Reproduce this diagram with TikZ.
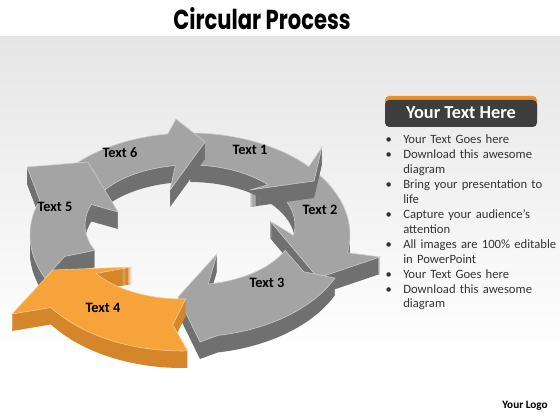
\documentclass[tikz,border=0pt]{standalone}
\usepackage{fontspec}
\setmainfont{Carlito}
\newfontfamily\titlefont{Poppins}
\usepackage{graphicx}
\usepackage{enumitem}
\usetikzlibrary{math}

\definecolor{BgGray}{HTML}{E6E6E6}
\definecolor{ArrowGray}{HTML}{A4A4A4}
\definecolor{ArrowGrayDark}{HTML}{707070}
\definecolor{ArrowOrange}{HTML}{F6A33B}
\definecolor{ArrowOrangeDark}{HTML}{D5862A}
\definecolor{HeaderGray}{HTML}{3E3E3E}
\definecolor{HeaderOrange}{HTML}{E8902C}
\definecolor{ListGray}{HTML}{333333}

\begin{document}
\begin{tikzpicture}[x=0.025cm, y=-0.025cm,
    declare function={
        ringrx(\s) = 105 + 55*\s;
        ringry(\s) = 60 + 42*\s;
        ringx(\t,\s) = 190 + ringrx(\s)*cos(\t);
        ringy(\t,\s) = 225 + 10*\s + ringry(\s)*sin(\t);
    },
    ringlabel/.style={font=\bfseries\fontsize{10.2}{12}\selectfont, text=black, inner sep=0pt},
]

% Canvas and background
\useasboundingbox (0,0) rectangle (560,420);
\fill[white] (0,0) rectangle (560,420);
\shade[top color=BgGray, bottom color=white] (0,37) rectangle (560,360);

% Title
\node (title) at (262,19) {\scalebox{1}[1.3]{\titlefont\bfseries\fontsize{15}{18}\selectfont Circular Process}};

% Ring settings
\tikzmath{
    \Depth = 17;
    \Notch = 6;
}

% Draws arrows, back to front
% tail/base angle, body offset, outer barb, tip, inner barb, colours
\foreach \Tail/\Base/\Dx/\Dy/\OutX/\OutY/\TipX/\TipY/\InX/\InY/\TopCol/\SideCol in {
    305/370/0/0/380/257/318/278/270/221/ArrowGray/ArrowGrayDark,
    270/318/0/0/322/147/314/181/250/190/ArrowGray/ArrowGrayDark,
    215/262/0/0/176/119/205/142/170/190/ArrowGray/ArrowGrayDark,
    155/200/0/0/27/167/88/162/118/212/ArrowGray/ArrowGrayDark,
    25/80/0/0/200/342/178/297/217/254/ArrowGray/ArrowGrayDark,
    88/145/-8/14/12/314/53/270/132/267/ArrowOrange/ArrowOrangeDark} {
    \tikzmath{
        \NotchX = ringx(\Tail+\Notch,0.5) + \Dx;
        \NotchY = ringy(\Tail+\Notch,0.5) + \Dy;
    }
    % side walls
    \foreach \d in {\Depth,...,1} {
        \fill[\SideCol, shift={(0,\d)}]
            plot[domain=\Tail:\Base, samples=25] ({ringx(\x,1)+\Dx},{ringy(\x,1)+\Dy})
            -- (\OutX,\OutY) -- (\TipX,\TipY) -- (\InX,\InY)
            -- plot[domain=\Base:\Tail, samples=25] ({ringx(\x,0)+\Dx},{ringy(\x,0)+\Dy})
            -- (\NotchX,\NotchY) -- cycle;
    }
    % top face
    \filldraw[fill=\TopCol, draw=\TopCol!55!white, line width=0.4pt]
        plot[domain=\Tail:\Base, samples=25] ({ringx(\x,1)+\Dx},{ringy(\x,1)+\Dy})
        -- (\OutX,\OutY) -- (\TipX,\TipY) -- (\InX,\InY)
        -- plot[domain=\Base:\Tail, samples=25] ({ringx(\x,0)+\Dx},{ringy(\x,0)+\Dy})
        -- (\NotchX,\NotchY) -- cycle;
}

% Labels
\foreach \i/\px/\py in {1/250/150, 2/320/210, 3/267/283, 4/103/308, 5/55/207, 6/120/153} {
    \node[ringlabel] (text\i) at (\px,\py) {Text \i};
}

% Header box
\fill[HeaderOrange, rounded corners=3pt] (385,96) rectangle (537,120);
\fill[HeaderGray, rounded corners=3pt] (385,100) rectangle (537,127);
\node[font=\bfseries\fontsize{13}{15}\selectfont, text=white] (header) at (461,113) {Your Text Here};

% Bullet list
\node[anchor=north west, inner sep=0pt, text width=200*0.7113pt, text=ListGray,
      font=\fontsize{9}{10.65}\selectfont] (list) at (384,128) {%
    \begin{itemize}[leftmargin=13.5pt, labelsep=8pt, itemsep=0pt, topsep=0pt, parsep=0pt, partopsep=0pt, label=\textbullet]
        \item Your Text Goes here
        \item Download this awesome\\diagram
        \item Bring your presentation to\\life
        \item Capture your audience’s\\attention
        \item All images are 100\% editable\\in PowerPoint
        \item Your Text Goes here
        \item Download this awesome\\diagram
    \end{itemize}};

% Logo
\node[font=\bfseries\fontsize{8}{10}\selectfont] (logo) at (525,406) {Your Logo};

\end{tikzpicture}
\end{document}
